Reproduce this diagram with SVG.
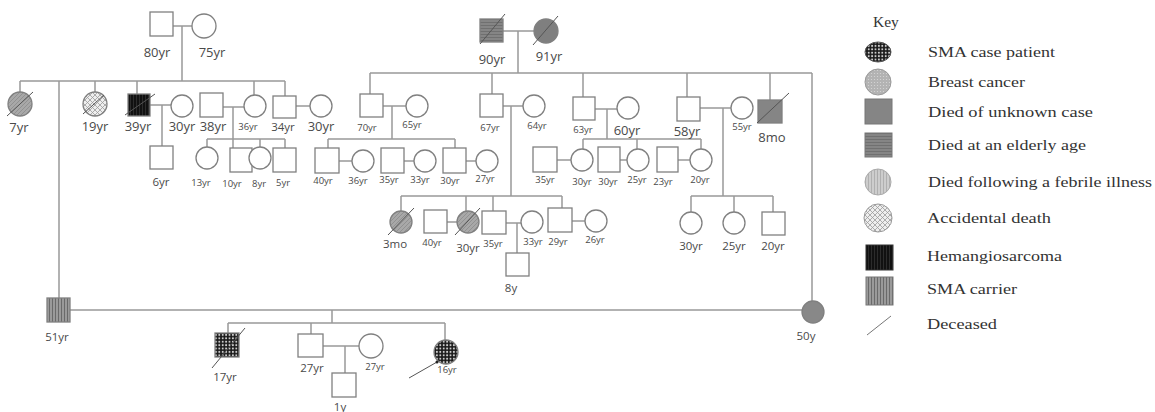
<svg xmlns="http://www.w3.org/2000/svg" width="1155" height="412" viewBox="0 0 1155 412">
<style>
.ln{stroke:#999;stroke-width:1.5;fill:none}
.nd{stroke:#808080;stroke-width:1.3;fill:#fff}
.sl{stroke:#555;stroke-width:1;fill:none}
.lb{font-family:"Open Sans","Liberation Sans",sans-serif;fill:#4a4a4a;text-anchor:middle}
.b{font-size:13px}.m{font-size:11.5px}.s{font-size:9.5px}
.key{font-family:"Liberation Serif",serif;font-size:15.5px;fill:#333}
</style>
<defs>
<pattern id="pSMA" width="3.4" height="3.4" patternUnits="userSpaceOnUse"><rect width="3.4" height="3.4" fill="#1a1a1a"/><circle cx="1.7" cy="1.7" r="1" fill="#d0d0d0"/></pattern>
<pattern id="pBreast" width="3" height="3" patternUnits="userSpaceOnUse"><rect width="3" height="3" fill="#b3b3b3"/><circle cx="1.5" cy="1.5" r="0.6" fill="#d8d8d8"/></pattern>
<pattern id="pElder" width="3" height="3" patternUnits="userSpaceOnUse"><rect width="3" height="3" fill="#858585"/><line x1="0" y1="1.5" x2="3" y2="1.5" stroke="#707070" stroke-width="1"/></pattern>
<pattern id="pFeb" width="3" height="3" patternUnits="userSpaceOnUse"><rect width="3" height="3" fill="#cdcdcd"/><line x1="1.5" y1="0" x2="1.5" y2="3" stroke="#b0b0b0" stroke-width="1"/></pattern>
<pattern id="pAcc" width="5" height="5" patternUnits="userSpaceOnUse"><rect width="5" height="5" fill="#eee"/><path d="M0 0L5 5M5 0L0 5" stroke="#9a9a9a" stroke-width="0.8"/></pattern>
<pattern id="pHem" width="3" height="3" patternUnits="userSpaceOnUse"><rect width="3" height="3" fill="#111"/><line x1="1.5" y1="0" x2="1.5" y2="3" stroke="#333" stroke-width="0.8"/></pattern>
<pattern id="pCar" width="3" height="3" patternUnits="userSpaceOnUse"><rect width="3" height="3" fill="#9a9a9a"/><line x1="1.5" y1="0" x2="1.5" y2="3" stroke="#6a6a6a" stroke-width="1"/></pattern>
<pattern id="pHatch" width="4" height="4" patternUnits="userSpaceOnUse"><rect width="4" height="4" fill="#a8a8a8"/><path d="M0 4L4 0" stroke="#8c8c8c" stroke-width="0.8"/></pattern>
</defs>

<g id="connectors">
<path class="ln" d="M173 26H192M182 26V81M20 81H285M20 81V92M59 81V298M95 81V92M137 81V94M254 81V95M285 81V96"/>
<path class="ln" d="M150 105H171M162 105V146M223 107H244M233 107V148M207 139H285M207 139V147M260 139V147M285 139V148"/>
<path class="ln" d="M296 106H310"/>
<path class="ln" d="M503 31H534M518 31V73M370 73H812M812 73V301M370 73V94M492 73V94M583 73V97M687 73V97M770 73V100"/>
<path class="ln" d="M383 106H406M392 106V139M328 139H455M328 139V148M455 139V148M339 161H352M404 161H414M466 161H476"/>
<path class="ln" d="M503 106H523M511 106V196M401 196H562M401 196V211M466 196V211M493 196V211M562 196V208M447 222H457M506 223H521M517 223V253M572 221H585"/>
<path class="ln" d="M595 109H617M607 109V139M583 139H701M583 139V149M637 139V149M701 139V149M557 160H571M620 160H627M678 160H690"/>
<path class="ln" d="M700 108H731M723 108V196M691 196H773M691 196V212M734 196V212M773 196V212"/>
<path class="ln" d="M70 310H802M332 310V323M228 323H445M228 323V333M311 323V334M445 323V340M323 346H359M345 346V373"/>
</g>

<g id="n80"><rect class="nd" x="150" y="12" width="23" height="24"/><text class="lb b" x="157" y="57">80yr</text></g>
<g id="n75"><circle class="nd" cx="204" cy="26" r="12"/><text class="lb b" x="212" y="57">75yr</text></g>
<g id="n7"><circle class="nd" cx="20" cy="104" r="12" style="fill:url(#pHatch)"/><line class="sl" x1="7" y1="116" x2="33" y2="92"/><text class="lb b" x="19" y="132">7yr</text></g>
<g id="n19"><circle class="nd" cx="95" cy="104" r="12" style="fill:url(#pAcc)"/><line class="sl" x1="83" y1="114" x2="104" y2="95"/><text class="lb b" x="95" y="131">19yr</text></g>
<g id="n39"><rect class="nd" x="128" y="94" width="22" height="22" style="fill:url(#pHem)"/><line class="sl" x1="125" y1="115" x2="155" y2="94"/><text class="lb b" x="138" y="131">39yr</text></g>
<g id="n30a"><circle class="nd" cx="182" cy="106" r="11"/><text class="lb b" x="182" y="131">30yr</text></g>
<g id="n38"><rect class="nd" x="200" y="93" width="23" height="24"/><text class="lb b" x="213" y="131">38yr</text></g>
<g id="n36a"><circle class="nd" cx="255" cy="106" r="11"/><text class="lb s" x="248" y="130">36yr</text></g>
<g id="n34"><rect class="nd" x="273" y="96" width="23" height="22"/><text class="lb m" x="283" y="131">34yr</text></g>
<g id="n30b"><circle class="nd" cx="321" cy="106" r="11"/><text class="lb b" x="321" y="131">30yr</text></g>
<g id="n6"><rect class="nd" x="150" y="146" width="23" height="23"/><text class="lb m" x="161" y="186">6yr</text></g>
<g id="n13"><circle class="nd" cx="207" cy="158" r="11"/><text class="lb s" x="201" y="186">13yr</text></g>
<g id="n10"><rect class="nd" x="230" y="148" width="22" height="24"/><text class="lb s" x="232" y="187">10yr</text></g>
<g id="n8"><circle class="nd" cx="260" cy="158" r="11"/><text class="lb s" x="259" y="187">8yr</text></g>
<g id="n5"><rect class="nd" x="273" y="148" width="23" height="24"/><text class="lb s" x="283" y="186">5yr</text></g>

<g id="n90"><rect class="nd" x="480" y="19" width="23" height="23" style="fill:url(#pElder)"/><line class="sl" x1="480" y1="44" x2="505" y2="14"/><text class="lb b" x="492" y="64">90yr</text></g>
<g id="n91"><circle class="nd" cx="546" cy="31" r="12" style="fill:#7f7f7f"/><line class="sl" x1="533" y1="45" x2="558" y2="16"/><text class="lb b" x="549" y="61">91yr</text></g>
<g id="n70"><rect class="nd" x="360" y="94" width="23" height="23"/><text class="lb s" x="367" y="131">70yr</text></g>
<g id="n65"><circle class="nd" cx="417" cy="106" r="11"/><text class="lb s" x="412" y="128">65yr</text></g>
<g id="n67"><rect class="nd" x="480" y="94" width="23" height="23"/><text class="lb s" x="490" y="131">67yr</text></g>
<g id="n64"><circle class="nd" cx="534" cy="106" r="11"/><text class="lb s" x="537" y="129">64yr</text></g>
<g id="n63"><rect class="nd" x="573" y="97" width="22" height="23"/><text class="lb s" x="583" y="133">63yr</text></g>
<g id="n60"><circle class="nd" cx="628" cy="108" r="11"/><text class="lb b" x="627" y="135">60yr</text></g>
<g id="n58"><rect class="nd" x="677" y="97" width="23" height="24"/><text class="lb b" x="687" y="136">58yr</text></g>
<g id="n55"><circle class="nd" cx="742" cy="108" r="11"/><text class="lb s" x="742" y="130">55yr</text></g>
<g id="n8mo"><rect class="nd" x="758" y="100" width="24" height="23" style="fill:#858585"/><line class="sl" x1="757" y1="123" x2="789" y2="93"/><text class="lb b" x="772" y="142">8mo</text></g>

<g id="n40a"><rect class="nd" x="315" y="148" width="24" height="25"/><text class="lb s" x="323" y="184">40yr</text></g>
<g id="n36b"><circle class="nd" cx="363" cy="161" r="11"/><text class="lb s" x="358" y="184">36yr</text></g>
<g id="n35a"><rect class="nd" x="381" y="148" width="23" height="25"/><text class="lb s" x="389" y="183">35yr</text></g>
<g id="n33a"><circle class="nd" cx="425" cy="161" r="11"/><text class="lb s" x="420" y="183">33yr</text></g>
<g id="n30c"><rect class="nd" x="443" y="148" width="23" height="25"/><text class="lb s" x="450" y="184">30yr</text></g>
<g id="n27a"><circle class="nd" cx="487" cy="161" r="11"/><text class="lb s" x="485" y="182">27yr</text></g>
<g id="n35b"><rect class="nd" x="533" y="147" width="24" height="25"/><text class="lb s" x="545" y="183">35yr</text></g>
<g id="n30d"><circle class="nd" cx="582" cy="160" r="11"/><text class="lb s" x="582" y="185">30yr</text></g>
<g id="n30e"><rect class="nd" x="598" y="147" width="22" height="25"/><text class="lb s" x="608" y="185">30yr</text></g>
<g id="n25a"><circle class="nd" cx="638" cy="160" r="11"/><text class="lb s" x="637" y="183">25yr</text></g>
<g id="n23"><rect class="nd" x="657" y="147" width="21" height="25"/><text class="lb s" x="663" y="185">23yr</text></g>
<g id="n20a"><circle class="nd" cx="701" cy="160" r="11"/><text class="lb s" x="700" y="183">20yr</text></g>

<g id="n3mo"><circle class="nd" cx="401" cy="222" r="11" style="fill:url(#pHatch)"/><line class="sl" x1="388" y1="235" x2="414" y2="208"/><text class="lb m" x="395" y="248">3mo</text></g>
<g id="n40b"><rect class="nd" x="424" y="210" width="23" height="23"/><text class="lb s" x="432" y="246">40yr</text></g>
<g id="n30f"><circle class="nd" cx="468" cy="222" r="11" style="fill:url(#pHatch)"/><line class="sl" x1="455" y1="235" x2="480" y2="208"/><text class="lb m" x="468" y="252">30yr</text></g>
<g id="n35c"><rect class="nd" x="482" y="211" width="24" height="23"/><text class="lb s" x="493" y="247">35yr</text></g>
<g id="n33b"><circle class="nd" cx="532" cy="222" r="11"/><text class="lb s" x="533" y="245">33yr</text></g>
<g id="n8y"><rect class="nd" x="506" y="253" width="23" height="23"/><text class="lb m" x="511" y="292">8y</text></g>
<g id="n29"><rect class="nd" x="548" y="208" width="24" height="24"/><text class="lb s" x="558" y="245">29yr</text></g>
<g id="n26"><circle class="nd" cx="596" cy="221" r="11"/><text class="lb s" x="595" y="243">26yr</text></g>
<g id="n30g"><circle class="nd" cx="691" cy="223" r="11"/><text class="lb m" x="691" y="250">30yr</text></g>
<g id="n25b"><circle class="nd" cx="734" cy="223" r="11"/><text class="lb m" x="734" y="250">25yr</text></g>
<g id="n20b"><rect class="nd" x="762" y="212" width="23" height="23"/><text class="lb m" x="773" y="250">20yr</text></g>

<g id="n51"><rect class="nd" x="47" y="298" width="23" height="24" style="fill:url(#pCar)"/><text class="lb m" x="57" y="341">51yr</text></g>
<g id="n50"><circle class="nd" cx="813" cy="312" r="11" style="fill:#888"/><text class="lb m" x="806" y="340">50y</text></g>
<g id="n17"><rect class="nd" x="215" y="333" width="24" height="24" style="fill:url(#pSMA)"/><line class="sl" x1="212" y1="368" x2="245" y2="328"/><text class="lb m" x="225" y="381">17yr</text></g>
<g id="n27m"><rect class="nd" x="298" y="334" width="25" height="23"/><text class="lb m" x="312" y="372">27yr</text></g>
<g id="n27f"><circle class="nd" cx="371" cy="346" r="12"/><text class="lb s" x="375" y="370">27yr</text></g>
<g id="n1y"><rect class="nd" x="332" y="373" width="24" height="24"/><text class="lb m" x="340" y="411">1y</text></g>
<g id="n16"><circle class="nd" cx="446" cy="352" r="12" style="fill:url(#pSMA)"/><line class="sl" x1="409" y1="378" x2="437" y2="362"/><circle cx="437" cy="362" r="1.5" fill="#222"/><text class="lb s" x="447" y="373">16yr</text></g>

<g id="legend">
<text class="key" x="873" y="27">Key</text>
<ellipse cx="878" cy="52" rx="13" ry="10" fill="url(#pSMA)" stroke="#555" stroke-width="1"/>
<text class="key" x="928" y="57" textLength="127" lengthAdjust="spacingAndGlyphs">SMA case patient</text>
<circle cx="878" cy="82" r="13" fill="url(#pBreast)" stroke="#999" stroke-width="1"/>
<text class="key" x="928" y="87" textLength="97" lengthAdjust="spacingAndGlyphs">Breast cancer</text>
<rect x="865" y="99" width="27" height="25" fill="#858585" stroke="#777" stroke-width="1"/>
<text class="key" x="928" y="117" textLength="165" lengthAdjust="spacingAndGlyphs">Died of unknown case</text>
<rect x="865" y="133" width="27" height="24" fill="url(#pElder)" stroke="#777" stroke-width="1"/>
<text class="key" x="928" y="150" textLength="158" lengthAdjust="spacingAndGlyphs">Died at an elderly age</text>
<circle cx="878" cy="182" r="13" fill="url(#pFeb)" stroke="#aaa" stroke-width="1"/>
<text class="key" x="928" y="187" textLength="224" lengthAdjust="spacingAndGlyphs">Died following a febrile illness</text>
<circle cx="878" cy="218" r="14" fill="url(#pAcc)" stroke="#999" stroke-width="1"/>
<text class="key" x="927" y="223" textLength="124" lengthAdjust="spacingAndGlyphs">Accidental death</text>
<rect x="866" y="245" width="27" height="25" fill="url(#pHem)" stroke="#333" stroke-width="1"/>
<text class="key" x="927" y="261" textLength="135" lengthAdjust="spacingAndGlyphs">Hemangiosarcoma</text>
<rect x="866" y="277" width="27" height="28" fill="url(#pCar)" stroke="#777" stroke-width="1"/>
<text class="key" x="927" y="294" textLength="90" lengthAdjust="spacingAndGlyphs">SMA carrier</text>
<line x1="867" y1="335" x2="891" y2="316" stroke="#777" stroke-width="1"/>
<text class="key" x="927" y="329" textLength="70" lengthAdjust="spacingAndGlyphs">Deceased</text>
</g>
</svg>
